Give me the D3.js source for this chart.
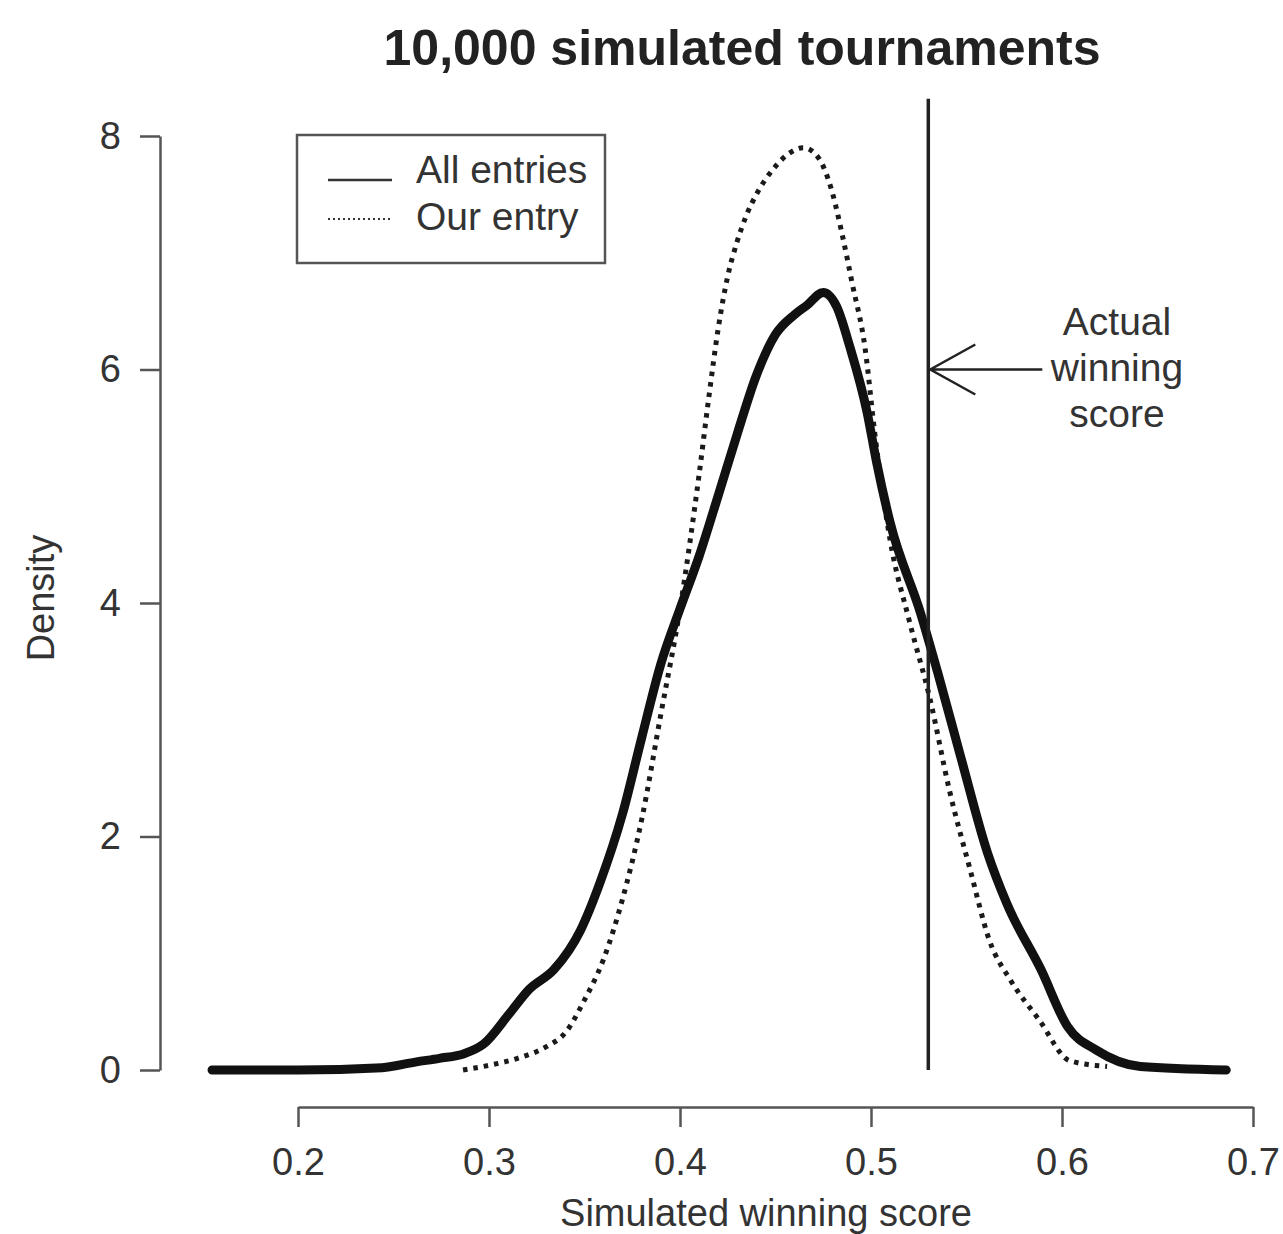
<!DOCTYPE html>
<meta charset="utf-8">
<title>10,000 simulated tournaments</title>
<style>
body {
  margin: 0px;
  background: white;
  font-family: "Liberation Sans", Arial, sans-serif;
}
.axis path, .axis line {
  stroke: #555;
  stroke-width: 2.5;
}
.axis text {
  font-family: "Liberation Sans", Arial, sans-serif;
  font-size: 38px;
  fill: #333;
}
</style>
<body>
<svg id="chart" width="1283" height="1234"></svg>
</body>

<script src="https://cdnjs.cloudflare.com/ajax/libs/d3/7.8.5/d3.min.js"></script>
<script type="text/javascript">

// density of the simulated winning score, all entries
var allScore = [0.155, 0.20, 0.244, 0.262, 0.274, 0.287, 0.297, 0.311, 0.321, 0.334,
                0.348, 0.358, 0.37, 0.38, 0.39, 0.40, 0.41, 0.42, 0.43, 0.44,
                0.45, 0.46, 0.4665, 0.475, 0.482, 0.489, 0.498, 0.503, 0.51, 0.526,
                0.535, 0.547, 0.561, 0.571, 0.589, 0.603, 0.618, 0.641, 0.686];
var allDensity = [0, 0, 0.02, 0.07, 0.10, 0.14, 0.22, 0.49, 0.69, 0.86,
                  1.2, 1.6, 2.2, 2.85, 3.48, 3.95, 4.4, 4.92, 5.45, 5.95,
                  6.3, 6.47, 6.55, 6.66, 6.54, 6.19, 5.63, 5.2, 4.69, 3.91,
                  3.4, 2.68, 1.86, 1.43, 0.86, 0.37, 0.17, 0.03, 0];

// density for our entry
var ourScore = [0.2864, 0.30, 0.315, 0.33, 0.34, 0.35, 0.36, 0.37, 0.38, 0.39,
                0.40, 0.41, 0.415, 0.42, 0.425, 0.43, 0.435, 0.44, 0.45, 0.457,
                0.4644, 0.47, 0.475, 0.48, 0.485, 0.49, 0.497, 0.502, 0.51, 0.52,
                0.531, 0.541, 0.552, 0.562, 0.573, 0.588, 0.604, 0.6236];
var ourDensity = [0, 0.04, 0.1, 0.2, 0.32, 0.6, 0.95, 1.47, 2.15, 3.05,
                  3.95, 5.1, 5.75, 6.35, 6.8, 7.1, 7.33, 7.5, 7.74, 7.85,
                  7.9, 7.86, 7.74, 7.5, 7.15, 6.75, 6.17, 5.45, 4.54, 3.85,
                  3.17, 2.4, 1.71, 1.11, 0.77, 0.43, 0.08, 0.03];

var xTicks = [0.2, 0.3, 0.4, 0.5, 0.6, 0.7];
var yTicks = [0, 2, 4, 6, 8];
var legendLabels = ["All entries", "Our entry"];
var annotationLines = ["Actual", "winning", "score"];
var winningScore = 0.53;
var arrowDensity = 6;

var svg = d3.select("#chart");

var x = d3.scaleLinear().domain([0.2, 0.7]).range([298, 1253]);
var y = d3.scaleLinear().domain([0, 8]).range([1070, 136]);

// axes
svg.append("g")
    .attr("class", "axis")
    .attr("transform", "translate(0,1107)")
    .call(d3.axisBottom(x).tickValues(xTicks).tickFormat(d3.format(".1f"))
          .tickSize(20).tickSizeOuter(0).tickPadding(21));

svg.append("g")
    .attr("class", "axis")
    .attr("transform", "translate(160,0)")
    .call(d3.axisLeft(y).tickValues(yTicks).tickSize(20).tickSizeOuter(0).tickPadding(19));

// titles
svg.append("text")
    .attr("x", 742).attr("y", 65)
    .attr("text-anchor", "middle")
    .style("font-size", "50px").style("font-weight", "bold").style("fill", "#222")
    .text("10,000 simulated tournaments");

svg.append("text")
    .attr("x", 766).attr("y", 1226)
    .attr("text-anchor", "middle")
    .style("font-size", "38px").style("fill", "#333")
    .text("Simulated winning score");

svg.append("text")
    .attr("transform", "translate(54,598) rotate(-90)")
    .attr("text-anchor", "middle")
    .style("font-size", "38px").style("fill", "#333")
    .text("Density");

// curves
var line = d3.line()
    .x(function(d) { return x(d[0]); })
    .y(function(d) { return y(d[1]); })
    .curve(d3.curveMonotoneX);

svg.append("path")
    .datum(d3.zip(ourScore, ourDensity))
    .attr("d", line)
    .attr("fill", "none")
    .attr("stroke", "#1a1a1a")
    .attr("stroke-width", 5)
    .attr("stroke-dasharray", "4.5,6");

svg.append("path")
    .datum(d3.zip(allScore, allDensity))
    .attr("d", line)
    .attr("fill", "none")
    .attr("stroke", "#111")
    .attr("stroke-width", 9)
    .attr("stroke-linecap", "round")
    .attr("stroke-linejoin", "round");

// actual winning score
svg.append("line")
    .attr("x1", x(winningScore)).attr("x2", x(winningScore))
    .attr("y1", y(0)).attr("y2", y(8.32))
    .attr("stroke", "#222").attr("stroke-width", 3.5);

var ax = x(winningScore) + 2, ay = y(arrowDensity);
svg.append("path")
    .attr("d", "M" + (ax + 112) + "," + ay + "L" + ax + "," + ay +
               "M" + (ax + 45) + "," + (ay - 25) + "L" + ax + "," + ay + "L" + (ax + 45) + "," + (ay + 25))
    .attr("fill", "none")
    .attr("stroke", "#222").attr("stroke-width", 2.5);

svg.selectAll(".annot")
    .data(annotationLines)
    .enter().append("text")
    .attr("class", "annot")
    .attr("x", 1117)
    .attr("y", function(d, i) { return 335 + i * 46; })
    .attr("text-anchor", "middle")
    .style("font-size", "39px").style("fill", "#333")
    .text(function(d) { return d; });

// legend
var legend = svg.append("g");
legend.append("rect")
    .attr("x", 297).attr("y", 135).attr("width", 308).attr("height", 128)
    .attr("fill", "white").attr("stroke", "#555").attr("stroke-width", 2.5);

legend.selectAll(".lg-line")
    .data(legendLabels)
    .enter().append("line")
    .attr("x1", 328).attr("x2", 392)
    .attr("y1", function(d, i) { return 180 + i * 39; })
    .attr("y2", function(d, i) { return 180 + i * 39; })
    .attr("stroke", "#333")
    .attr("stroke-width", function(d, i) { return i == 0 ? 2.5 : 2; })
    .attr("stroke-dasharray", function(d, i) { return i == 0 ? null : "2,3"; });

legend.selectAll(".lg-text")
    .data(legendLabels)
    .enter().append("text")
    .attr("x", 416)
    .attr("y", function(d, i) { return 183 + i * 47; })
    .style("font-size", "39px").style("fill", "#333")
    .text(function(d) { return d; });

</script>
